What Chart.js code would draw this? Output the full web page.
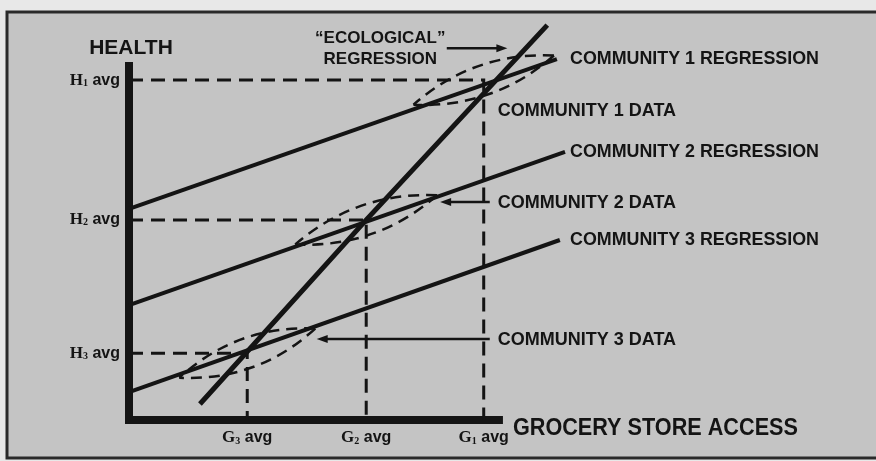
<!DOCTYPE html>
<html>
<head>
<meta charset="utf-8">
<script src="https://cdn.jsdelivr.net/npm/chart.js@4.4.0/dist/chart.umd.min.js"></script>
<style>
  html, body { margin: 0; padding: 0; background: #e8e8e8; }
  #wrap { width: 876px; height: 461px; }
</style>
</head>
<body>
<div id="wrap"><canvas id="healthChart" width="876" height="461"></canvas></div>
<script>
// community averages (G = grocery store access, H = health)
const communities = ['COMMUNITY 1', 'COMMUNITY 2', 'COMMUNITY 3'];
const groceryAvg = [48, 32.1, 16];
const healthAvg = [82.9, 48.8, 16.3];
const avgSubscripts = ['1', '2', '3'];

// regression line inside each community (start / end)
const regStartX = [0, 0, 0];
const regStartY = [51.5, 28.0, 6.8];
const regEndX = [57.9, 59.0, 58.3];
const regEndY = [88.0, 65.4, 43.9];

// "ecological" regression through the community averages
const ecoX = [9.6, 32.1, 56.6];
const ecoY = [3.9, 48.8, 96.3];

// half spread of each community's data cloud
const cloudHalfX = [9.5, 9.6, 9.2];
const cloudHalfY = [6.0, 6.0, 6.0];

// where the "DATA" callouts sit and where their arrows point
const dataLabelX = [49.9, 49.9, 49.9];
const dataLabelY = [75.4, 52.9, 19.5];
const dataArrowTo = [null, 42.1, 25.4];

// axis extent
const axisTopY = 87.3;
const axisEndX = 50.6;

const ink = '#141414';
const sans = '"Liberation Sans", Arial, sans-serif';
const serif = '"Liberation Serif", "Times New Roman", serif';
const ctx = document.getElementById('healthChart').getContext('2d');

const datasets = [];
communities.forEach((c, i) => {
  datasets.push({
    label: c + ' avg',
    data: [
      { x: 0, y: healthAvg[i] },
      { x: groceryAvg[i], y: healthAvg[i] },
      { x: groceryAvg[i], y: 0 },
    ],
    borderDash: [14, 8],
    borderWidth: 3,
  });
});
communities.forEach((c, i) => {
  datasets.push({
    label: c + ' regression',
    data: [
      { x: regStartX[i], y: regStartY[i] },
      { x: regEndX[i], y: regEndY[i] },
    ],
    borderWidth: 4,
  });
});
datasets.push({
  label: 'ecological regression',
  data: ecoX.map((x, i) => ({ x: x, y: ecoY[i] })),
  borderWidth: 5,
});
datasets.push({
  label: 'axes',
  data: [
    { x: 0, y: axisTopY },
    { x: 0, y: 0 },
    { x: axisEndX, y: 0 },
  ],
  borderWidth: 8,
  borderJoinStyle: 'miter',
});
datasets.forEach((d) => {
  d.borderColor = ink;
  d.pointRadius = 0;
  d.showLine = true;
  d.fill = false;
  d.clip = false;
});

function text(c, str, x, y, size, maxW, align) {
  c.font = 'bold ' + size + 'px ' + sans;
  c.textAlign = align || 'left';
  c.textBaseline = 'middle';
  c.fillText(str, x, y, maxW);
}

// "H1 avg" style label: serif letter, small subscript, sans "avg"
function avgLabel(c, letter, sub, x, y, align) {
  const parts = [
    { t: letter, f: 'bold 17px ' + serif, dy: 0 },
    { t: sub, f: 'bold 10px ' + serif, dy: 3 },
    { t: ' avg', f: 'bold 16px ' + sans, dy: 0 },
  ];
  let w = 0;
  parts.forEach((p) => { c.font = p.f; p.w = c.measureText(p.t).width; w += p.w; });
  let px = align === 'right' ? x - w : x - w / 2;
  c.textAlign = 'left';
  c.textBaseline = 'middle';
  parts.forEach((p) => {
    c.font = p.f;
    c.fillText(p.t, px, y + p.dy);
    px += p.w;
  });
}

function arrow(c, x1, y1, x2, y2) {
  const a = Math.atan2(y2 - y1, x2 - x1);
  c.beginPath();
  c.moveTo(x1, y1);
  c.lineTo(x2 - 8 * Math.cos(a), y2 - 8 * Math.sin(a));
  c.lineWidth = 2.5;
  c.stroke();
  c.beginPath();
  c.moveTo(x2, y2);
  c.lineTo(x2 - 11 * Math.cos(a) + 4 * Math.sin(a), y2 - 11 * Math.sin(a) - 4 * Math.cos(a));
  c.lineTo(x2 - 11 * Math.cos(a) - 4 * Math.sin(a), y2 - 11 * Math.sin(a) + 4 * Math.cos(a));
  c.closePath();
  c.fill();
}

const paperPlugin = {
  id: 'paper',
  beforeDraw(chart) {
    const c = chart.ctx;
    c.save();
    c.fillStyle = '#e8e8e8';
    c.fillRect(0, 0, chart.width, chart.height);
    c.fillStyle = '#c4c4c4';
    c.fillRect(7, 12, chart.width, 446);
    c.strokeStyle = '#2a2a2a';
    c.lineWidth = 3;
    c.beginPath();
    c.moveTo(chart.width, 12);
    c.lineTo(7, 12);
    c.lineTo(7, 458);
    c.lineTo(chart.width, 458);
    c.stroke();
    c.restore();
  },
};

const notesPlugin = {
  id: 'notes',
  afterDatasetsDraw(chart) {
    const c = chart.ctx;
    const xs = chart.scales.x;
    const ys = chart.scales.y;
    c.save();
    c.strokeStyle = ink;
    c.fillStyle = ink;

    // dashed data clouds
    communities.forEach((cName, i) => {
      const cx = xs.getPixelForValue(groceryAvg[i]);
      const cy = ys.getPixelForValue(healthAvg[i]);
      const tx = xs.getPixelForValue(groceryAvg[i] + cloudHalfX[i]);
      const ty = ys.getPixelForValue(healthAvg[i] + cloudHalfY[i]);
      const dx = tx - cx;
      const dy = ty - cy;
      const len = Math.hypot(dx, dy);
      const nx = -dy / len * 30;
      const ny = dx / len * 30;
      c.lineWidth = 2.5;
      c.setLineDash([11, 7]);
      [1, -1].forEach((s) => {
        c.beginPath();
        c.moveTo(tx, ty);
        c.quadraticCurveTo(cx + s * nx, cy + s * ny, cx - dx, cy - dy);
        c.stroke();
      });
    });
    c.setLineDash([]);

    // axis value labels
    communities.forEach((cName, i) => {
      avgLabel(c, 'G', avgSubscripts[i], xs.getPixelForValue(groceryAvg[i]), ys.getPixelForValue(0) + 18, 'center');
      avgLabel(c, 'H', avgSubscripts[i], xs.getPixelForValue(0) - 9, ys.getPixelForValue(healthAvg[i]), 'right');
    });

    // axis titles
    text(c, 'HEALTH', xs.getPixelForValue(0) + 2, ys.getPixelForValue(axisTopY) - 14, 21, 84, 'center');
    text(c, 'GROCERY STORE ACCESS', xs.getPixelForValue(axisEndX) + 10, ys.getPixelForValue(0) + 8, 24, 285);

    // regression labels, aligned just past the longest line
    const regLabelX = Math.max(...regEndX.map((v) => xs.getPixelForValue(v))) + 5;
    communities.forEach((cName, i) => {
      text(c, cName + ' REGRESSION', regLabelX, ys.getPixelForValue(regEndY[i]), 18, 249);
    });

    // data labels with arrows
    communities.forEach((cName, i) => {
      const lx = xs.getPixelForValue(dataLabelX[i]);
      const ly = ys.getPixelForValue(dataLabelY[i]);
      text(c, cName + ' DATA', lx, ly, 18, 181);
      if (dataArrowTo[i] !== null) {
        arrow(c, lx - 8, ly - 1, xs.getPixelForValue(dataArrowTo[i]), ly - 1);
      }
    });

    // ecological regression callout
    const ex = xs.getPixelForValue(34.0);
    text(c, '\u201CECOLOGICAL\u201D', ex, ys.getPixelForValue(93.2), 17, 131, 'center');
    text(c, 'REGRESSION', ex, ys.getPixelForValue(88.0), 17, 116, 'center');
    arrow(c, xs.getPixelForValue(43.0), ys.getPixelForValue(90.7), xs.getPixelForValue(51.2), ys.getPixelForValue(90.7));

    c.restore();
  },
};

new Chart(ctx, {
  type: 'scatter',
  data: { datasets: datasets },
  options: {
    responsive: false,
    animation: false,
    layout: {
      padding: { left: 129, right: 8, top: 10, bottom: 41 },
    },
    scales: {
      x: { type: 'linear', min: 0, max: 100, display: false },
      y: { type: 'linear', min: 0, max: 100, display: false },
    },
    elements: {
      line: { tension: 0 },
    },
    plugins: {
      legend: { display: false },
      tooltip: { enabled: false },
    },
  },
  plugins: [paperPlugin, notesPlugin],
});
</script>
</body>
</html>
